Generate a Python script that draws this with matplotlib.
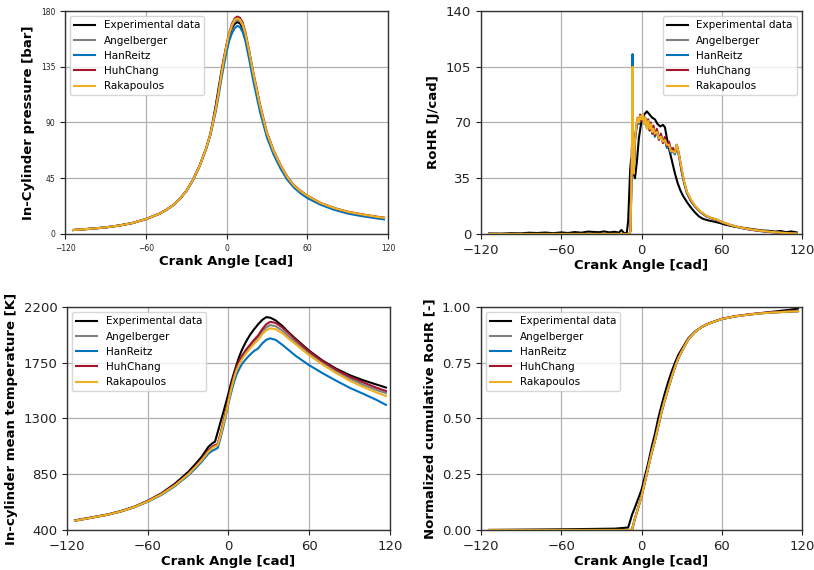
import matplotlib
matplotlib.use("Agg")
import matplotlib.pyplot as plt

# ---- series names / colours ----
labels = ["Experimental data", "Angelberger", "HanReitz", "HuhChang", "Rakapoulos"]
colors = ["#000000", "#808080", "#0072BD", "#A2142F", "#EDB120"]

# ---- in-cylinder pressure [bar] ----
ca_p = [-114, -100, -90, -80, -70, -60, -50, -45, -40, -35, -30, -25, -20, -15,
        -12, -10, -8, -6, -4, -2, 0, 2, 4, 6, 8, 10, 12, 14, 17, 20, 25, 30, 35, 40, 45, 50, 55, 60, 70, 80, 90, 100, 110, 117]
p_exp = [3.2, 4.3, 5.3, 6.8, 8.8, 12.0, 16.3, 19.3, 23.0, 28.0, 34.5, 43.5, 55.0, 69.5,
         81.0, 92.0, 104.0, 117.0, 130.0, 142.0, 152.0, 160.0, 166.0, 169.5, 171.0, 170.0, 166.0, 158.5, 143.0, 126.0,
         101.0, 80.0, 66.0, 55.0, 45.5, 38.5, 34.0, 30.5, 24.5, 20.5, 17.5, 15.5, 13.8, 12.8]
p_angel = [3.2, 4.3, 5.3, 6.8, 8.8, 12.0, 16.3, 19.3, 23.0, 28.0, 34.5, 43.5, 55.0, 69.5,
           80.5, 90.5, 101.0, 113.0, 127.0, 140.0, 151.5, 161.0, 167.5, 172.0, 173.0, 172.0, 168.0, 161.0, 145.0, 128.0,
           102.5, 81.0, 66.5, 55.5, 46.0, 39.0, 34.3, 30.8, 24.8, 20.8, 17.8, 15.8, 14.0, 13.0]
p_han = [3.2, 4.3, 5.3, 6.8, 8.8, 12.0, 16.3, 19.3, 23.0, 28.0, 34.5, 43.5, 55.0, 69.5,
         80.0, 89.5, 99.0, 111.0, 124.0, 136.0, 147.0, 156.0, 162.0, 166.0, 168.0, 167.0, 163.0, 156.0, 140.0, 123.0,
         98.0, 78.0, 64.0, 53.0, 44.0, 37.5, 32.8, 29.0, 23.5, 19.5, 16.5, 14.5, 12.8, 11.8]
p_huh = [3.2, 4.3, 5.3, 6.8, 8.8, 12.0, 16.3, 19.3, 23.0, 28.0, 34.5, 43.5, 55.0, 69.5,
         80.5, 90.5, 101.5, 114.0, 128.0, 141.0, 153.0, 162.5, 169.5, 174.0, 175.5, 174.5, 170.5, 163.0, 147.0, 130.0,
         104.0, 82.0, 67.5, 56.0, 46.5, 39.5, 34.8, 31.0, 25.0, 21.0, 18.0, 16.0, 14.2, 13.2]
p_rak = [3.2, 4.3, 5.3, 6.8, 8.8, 12.0, 16.3, 19.3, 23.0, 28.0, 34.5, 43.5, 55.0, 69.5,
         80.5, 90.5, 101.0, 113.5, 127.5, 140.5, 152.0, 162.0, 168.5, 173.0, 174.0, 173.0, 169.0, 162.0, 146.0, 129.0,
         103.0, 81.5, 67.0, 55.8, 46.2, 39.2, 34.5, 30.9, 24.9, 20.9, 17.9, 15.9, 14.1, 13.1]

# ---- rate of heat release [J/cad] ----
ca_r_exp = [-114, -105, -98, -90, -84, -78, -72, -66, -60, -55, -50, -45, -40, -36, -32, -28, -24, -20, -17, -15,
            -13, -11, -10, -8.5, -7.8, -6.5, -4.9, -3.5, -2, 0, 2, 4, 6, 8, 10, 12, 14, 16, 17.5, 19, 21, 23, 25,
            27, 29, 31, 34, 37, 40, 43, 46, 50, 54, 58, 62, 66, 70, 75, 80, 85, 90, 95, 100, 104, 108, 112, 116]
r_exp = [0.3, 0.2, 0.5, 0.4, 0.8, 0.6, 0.9, 0.5, 1.0, 0.6, 1.2, 0.8, 1.5, 1.3, 1.1, 1.6, 1.0, 1.4, 0.8, 2.5,
         0.5, 0.8, 8.0, 40.0, 47.0, 40.0, 35.0, 45.0, 60.0, 71.0, 75.0, 77.0, 75.0, 73.0, 72.0, 69.0, 67.5, 68.5, 67.0, 60.0, 52.0, 45.0, 38.0,
         32.0, 27.5, 24.0, 20.0, 16.5, 13.5, 11.0, 9.5, 8.5, 7.8, 7.0, 6.0, 5.2, 4.5, 4.0, 3.4, 2.8, 2.2, 2.0, 1.5, 1.9, 1.1, 1.6, 1.0]

ca_r_sim = [-114, -60, -20, -9, -8.2, -7.0, -6.7, -6.3, -5.8, -5.0, -4.0, -3.0, -2.0, -1.0, 0.0, 1.0, 2.0, 3.0, 4.0,
            5.0, 6.0, 7.0, 8.0, 9.0, 10.0, 11.5, 13.0, 14.5, 16.0, 17.5, 19.0, 20.5, 22.0, 23.5, 25.0, 26.3, 28.0,
            30.0, 32.0, 34.0, 37.0, 40.0, 44.0, 48.0, 52.0, 56.0, 60.0, 65.0, 70.0, 75.0, 80.0, 88.0, 96.0, 104.0, 110.0, 116.0]
r_angel = [0, 0, 0, 0, 2, 60, 104, 40, 38, 58, 66, 72, 70, 74, 71, 75, 70, 73, 67,
           71, 65, 69, 64, 67, 62, 65, 60, 62, 58, 60, 55, 57, 52, 53, 51, 56, 50,
           40, 32, 26, 21, 17.5, 14, 11.5, 10, 9, 7.5, 6, 4.8, 3.8, 3, 2, 1.3, 0.8, 0.5, 0.3]
r_han = [0, 0, 0, 0, 2, 62, 113, 42, 39, 57, 65, 71, 69, 73, 72, 74, 69, 72, 68,
         70, 66, 68, 63, 66, 61, 64, 61, 61, 59, 59, 54, 56, 51, 52, 50, 55, 49,
         39, 31.5, 25.5, 20.5, 17.2, 13.8, 11.3, 9.9, 8.9, 7.4, 5.9, 4.7, 3.7, 2.9, 1.9, 1.2, 0.7, 0.4, 0.3]
r_huh = [0, 0, 0, 0, 2, 60, 105, 40, 38, 59, 66, 73, 70, 75, 71, 74, 71, 72, 67,
         72, 65, 70, 63, 68, 62, 66, 59, 63, 57, 61, 55, 58, 53, 54, 51, 56, 50,
         40, 32, 26, 21, 17.5, 14, 11.5, 10, 9, 7.5, 6, 4.8, 3.8, 3, 2, 1.3, 0.8, 0.5, 0.3]
r_rak = [0, 0, 0, 0, 2, 60, 105, 40, 38, 58, 67, 73, 70, 74, 72, 75, 69, 73, 66,
         71, 66, 69, 64, 66, 63, 64, 60, 61, 58, 59, 56, 56, 52, 52, 51, 56, 50,
         41, 32.5, 26.5, 21.5, 17.8, 14.2, 11.7, 10.1, 9.1, 7.6, 6.1, 4.9, 3.9, 3.1, 2.1, 1.4, 0.8, 0.5, 0.3]

# ---- in-cylinder mean temperature [K] ----
ca_t = [-114, -100, -90, -80, -70, -60, -50, -40, -30, -25, -20, -15, -12, -10, -8, -6, -4, -2, 0, 2, 4,
        6, 8, 10, 13, 16, 19, 22, 25, 28, 31, 35, 40, 45, 50, 60, 70, 80, 90, 100, 110, 117]
t_exp = [478, 505, 525, 553, 588, 636, 695, 772, 868, 927, 990, 1070, 1100, 1113, 1190, 1268, 1345, 1422, 1503, 1590, 1665,
         1735, 1800, 1855, 1920, 1975, 2020, 2060, 2095, 2118, 2114, 2092, 2047, 1992, 1942, 1847, 1767, 1702, 1650, 1609, 1574, 1550]
t_angel = [475, 503, 523, 550, 585, 632, 688, 760, 850, 905, 965, 1035, 1065, 1078, 1090, 1170, 1255, 1345, 1445, 1545, 1630,
           1700, 1750, 1790, 1840, 1880, 1920, 1955, 2000, 2035, 2054, 2045, 2010, 1960, 1915, 1828, 1752, 1683, 1623, 1573, 1530, 1505]
t_han = [475, 503, 523, 549, 583, 628, 682, 752, 840, 892, 950, 1015, 1040, 1050, 1062, 1140, 1225, 1320, 1420, 1510, 1590,
         1655, 1700, 1740, 1780, 1815, 1845, 1865, 1905, 1935, 1947, 1935, 1895, 1850, 1805, 1730, 1665, 1605, 1548, 1500, 1450, 1410]
t_huh = [475, 503, 523, 550, 586, 633, 690, 763, 853, 909, 970, 1042, 1073, 1085, 1095, 1175, 1262, 1355, 1455, 1555, 1645,
         1715, 1768, 1805, 1855, 1895, 1935, 1970, 2020, 2060, 2080, 2072, 2035, 1985, 1935, 1840, 1762, 1695, 1638, 1592, 1548, 1522]
t_rak = [475, 503, 523, 550, 585, 631, 687, 758, 848, 903, 962, 1031, 1062, 1075, 1085, 1160, 1245, 1335, 1435, 1535, 1620,
         1690, 1738, 1778, 1825, 1865, 1903, 1935, 1980, 2012, 2028, 2020, 1988, 1942, 1898, 1810, 1735, 1666, 1605, 1555, 1510, 1482]

# ---- normalized cumulative heat release [-] ----
ca_c = [-114, -60, -20, -12, -10, -8, -7, -5, -2.5, 0, 2.5, 5, 7.5, 10, 12.5, 15, 17.5, 20, 22.5, 25, 27.5, 30,
        35, 40, 45, 50, 60, 70, 80, 90, 100, 110, 117]
c_exp = [0.0, 0.003, 0.006, 0.01, 0.011, 0.05, 0.07, 0.1, 0.14, 0.18, 0.24, 0.30, 0.37, 0.43, 0.50, 0.56, 0.615, 0.665, 0.71, 0.75, 0.785, 0.81,
         0.86, 0.89, 0.91, 0.925, 0.946, 0.958, 0.966, 0.973, 0.98, 0.987, 0.993]
c_angel = [0.0, 0.0, 0.0, 0.0, 0.0, 0.0, 0.003, 0.05, 0.10, 0.15, 0.215, 0.28, 0.345, 0.40, 0.465, 0.53, 0.585, 0.635, 0.685, 0.73, 0.77, 0.80,
           0.855, 0.888, 0.91, 0.925, 0.946, 0.958, 0.966, 0.972, 0.976, 0.979, 0.981]
c_han = [0.0, 0.0, 0.0, 0.0, 0.0, 0.0, 0.003, 0.05, 0.10, 0.15, 0.214, 0.279, 0.344, 0.40, 0.464, 0.529, 0.584, 0.634, 0.684, 0.729, 0.769, 0.80,
         0.855, 0.888, 0.91, 0.925, 0.946, 0.958, 0.966, 0.972, 0.976, 0.979, 0.981]
c_huh = [0.0, 0.0, 0.0, 0.0, 0.0, 0.0, 0.003, 0.05, 0.10, 0.15, 0.215, 0.28, 0.345, 0.40, 0.465, 0.53, 0.585, 0.636, 0.686, 0.731, 0.771, 0.801,
         0.856, 0.889, 0.911, 0.926, 0.947, 0.959, 0.967, 0.973, 0.977, 0.98, 0.982]
c_rak = [0.0, 0.0, 0.0, 0.0, 0.0, 0.0, 0.003, 0.05, 0.10, 0.15, 0.215, 0.28, 0.345, 0.40, 0.465, 0.53, 0.585, 0.635, 0.685, 0.73, 0.77, 0.80,
         0.855, 0.888, 0.91, 0.925, 0.946, 0.958, 0.966, 0.972, 0.976, 0.979, 0.981]


def style_axes(ax, yticks, tick_fs, label_fs, ylabel):
    ax.set_xlim(-120, 120)
    ax.set_xticks([-120, -60, 0, 60, 120])
    ax.set_ylim(yticks[0], yticks[-1])
    ax.set_yticks(yticks)
    ax.grid(True, color="#b0b0b0", linewidth=0.9)
    ax.set_axisbelow(True)
    ax.tick_params(labelsize=tick_fs, colors="#222222")
    for sp in ax.spines.values():
        sp.set_color("#333333")
        sp.set_linewidth(1.0)
    ax.set_xlabel("Crank Angle [cad]", fontsize=label_fs, fontweight="bold", labelpad=2)
    ax.set_ylabel(ylabel, fontsize=label_fs, fontweight="bold")


fig = plt.figure(figsize=(8.14, 5.70), dpi=100)

# top-left: pressure
ax1 = fig.add_axes([0.0799, 0.5895, 0.3968, 0.3912])
for y, lab, col in zip([p_exp, p_angel, p_han, p_huh, p_rak], labels, colors):
    ax1.plot(ca_p, y, color=col, lw=1.5, label=lab)
style_axes(ax1, [0, 45, 90, 135, 180], 5.5, 9.5, "In-Cylinder pressure [bar]")
ax1.legend(loc="upper left", fontsize=7.5)

# top-right: RoHR
ax2 = fig.add_axes([0.5909, 0.5895, 0.3944, 0.3912])
ax2.plot(ca_r_exp, r_exp, color=colors[0], lw=1.5, label=labels[0])
for y, lab, col in zip([r_angel, r_han, r_huh, r_rak], labels[1:], colors[1:]):
    ax2.plot(ca_r_sim, y, color=col, lw=1.5, label=lab)
style_axes(ax2, [0, 35, 70, 105, 140], 9.5, 9.5, "RoHR [J/cad]")
ax2.legend(loc="upper right", fontsize=7.5)

# bottom-left: temperature
ax3 = fig.add_axes([0.0823, 0.0702, 0.3968, 0.3912])
for y, lab, col in zip([t_exp, t_angel, t_han, t_huh, t_rak], labels, colors):
    ax3.plot(ca_t, y, color=col, lw=1.5, label=lab)
style_axes(ax3, [400, 850, 1300, 1750, 2200], 9.5, 9.5, "In-cylinder mean temperature [K]")
ax3.legend(loc="upper left", fontsize=7.5)

# bottom-right: cumulative RoHR
ax4 = fig.add_axes([0.5909, 0.0702, 0.3944, 0.3912])
for y, lab, col in zip([c_exp, c_angel, c_han, c_huh, c_rak], labels, colors):
    ax4.plot(ca_c, y, color=col, lw=1.5, label=lab)
style_axes(ax4, [0.0, 0.25, 0.5, 0.75, 1.0], 9.5, 9.5, "Normalized cumulative RoHR [-]")
ax4.set_yticklabels(["0.00", "0.25", "0.50", "0.75", "1.00"])
ax4.legend(loc="upper left", fontsize=7.5)

fig.savefig("out.png", dpi=100)
plt.close(fig)
